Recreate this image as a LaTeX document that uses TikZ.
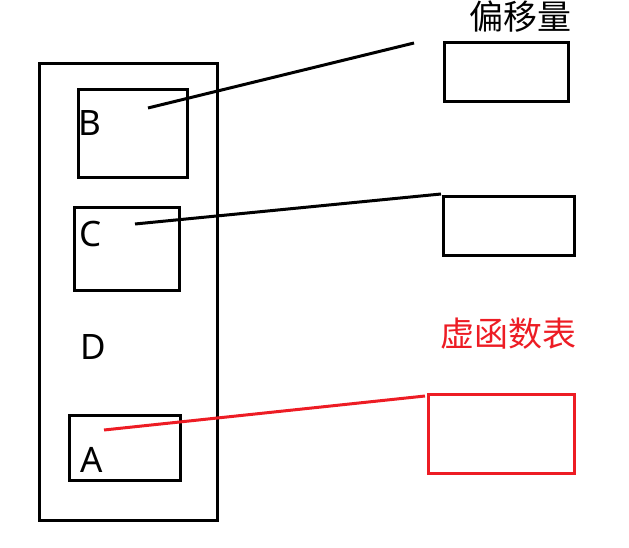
\documentclass[tikz,border=0pt]{standalone}
\usepackage{fontspec}
\setmainfont{Noto Sans}
\newfontfamily\cjk{Noto Sans CJK SC}
\usetikzlibrary{positioning}
\definecolor{paintred}{RGB}{237,28,36}

\begin{document}
\begin{tikzpicture}[x=1pt, y=-1pt, line width=3pt, every node/.style={inner sep=0pt},
    box/.style={draw, rectangle, anchor=north west},
    letter/.style={font=\fontsize{35}{40}\selectfont},
    title/.style={font=\cjk\fontsize{34}{38}\selectfont}]

    \useasboundingbox (0,0) rectangle (629,548);

    % object layout
    \node[box, minimum width=178pt, minimum height=457pt] (obj)  at (38,62)   {};
    \node[box, minimum width=109pt, minimum height=88pt]  (boxB) at (77,88)   {};
    \node[box, minimum width=105pt, minimum height=83pt]  (boxC) at (73,206)  {};
    \node[box, minimum width=111pt, minimum height=65pt]  (boxA) at (68,414)  {};

    \node[letter] (B) at (90,123) {B};
    \node[letter] (C) at (91,234) {C};
    \node[letter] (D) at (93,347) {D};
    \node[letter] (A) at (92,460) {A};

    % tables
    \node[box, minimum width=124pt, minimum height=59pt] (offB) at (443,41)  {};
    \node[box, minimum width=131pt, minimum height=59pt] (offC) at (442,195) {};
    \node[box, draw=paintred, minimum width=146pt, minimum height=79pt] (vtbl) at (427,393) {};

    \node[title]                  (offset) [above=7pt of offB, xshift=14pt] {偏移量};
    \node[title, text=paintred]   (vtname) [above=42pt of vtbl, xshift=7pt] {虚函数表};

    \coordinate (pB) at (148,108);
    \coordinate (qB) at (414,43);
    \coordinate (pC) at (135,224);
    \coordinate (qC) at (441,194);
    \coordinate (pA) at (104,430);
    \coordinate (qA) at (425,396);

    \draw (pB) -- (qB);
    \draw (pC) -- (qC);
    \draw[paintred] (pA) -- (qA);

\end{tikzpicture}
\end{document}
